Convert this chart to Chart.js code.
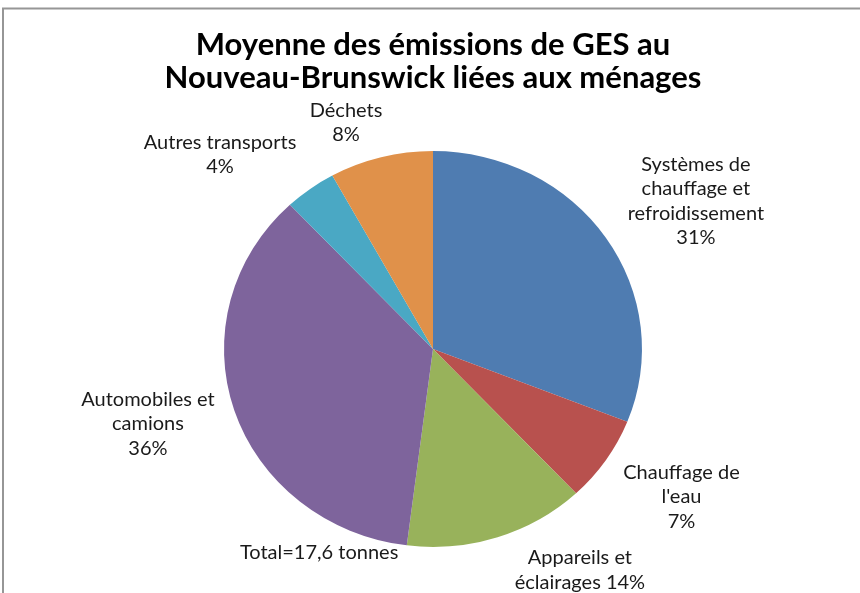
<!DOCTYPE html>
<html><head><meta charset="utf-8">
<script src="https://cdn.jsdelivr.net/npm/chart.js@4/dist/chart.umd.min.js"></script>
<style>html,body{margin:0;padding:0;background:#fff;} canvas{display:block;}</style>
</head><body>
<canvas id="c" width="860" height="593"></canvas>
<script>
const categories = [
  ["Systèmes de","chauffage et","refroidissement"],
  ["Chauffage de","l'eau"],
  ["Appareils et","éclairages"],
  ["Automobiles et","camions"],
  ["Autres transports"],
  ["Déchets"]
];
const values = [31, 7, 14, 36, 4, 8];
const colors = ["#4F7CB1","#B8514E","#98B25B","#7E649C","#4AA8C4","#E0914A"];
const titleLines = ["Moyenne des émissions de GES au","Nouveau-Brunswick liées aux ménages"];
const totalNote = "Total=17,6 tonnes";

const framePlugin = {
  id: 'frame',
  beforeDraw(chart) {
    const ctx = chart.ctx;
    ctx.save();
    ctx.fillStyle = '#fff';
    ctx.fillRect(0, 0, chart.width, chart.height);
    ctx.strokeStyle = '#969696';
    ctx.lineWidth = 2;
    ctx.beginPath();
    ctx.moveTo(3, chart.height);
    ctx.lineTo(3, 8.5);
    ctx.lineTo(chart.width, 8.5);
    ctx.stroke();
    ctx.restore();
  }
};

// draws the pie slightly flattened vertically, as in the original picture
const ellipsePlugin = {
  id: 'ellipse',
  beforeDatasetsDraw(chart, args, opts) {
    const a = chart.getDatasetMeta(0).data[0];
    const ctx = chart.ctx;
    ctx.save();
    ctx.translate(a.x, a.y);
    ctx.scale(1, opts.sy);
    ctx.translate(-a.x, -a.y);
  },
  afterDatasetsDraw(chart) {
    chart.ctx.restore();
  }
};

const labelPlugin = {
  id: 'outLabels',
  afterDatasetsDraw(chart, args, opts) {
    const meta = chart.getDatasetMeta(0);
    const ctx = chart.ctx;
    const a0 = meta.data[0];
    const cx = a0.x, cy = a0.y, R = a0.outerRadius;
    ctx.save();
    ctx.font = opts.font;
    ctx.fillStyle = opts.color;
    ctx.textAlign = 'center';
    ctx.textBaseline = 'middle';
    values.forEach((v, i) => {
      const lines = categories[i].slice();
      const pct = v + '%';
      if (opts.inline[i]) lines[lines.length - 1] += ' ' + pct; else lines.push(pct);
      const [ox, oy] = opts.offsets[i];
      const x = cx + ox * R, y = cy + oy * R;
      const n = lines.length;
      lines.forEach((t, j) => ctx.fillText(t, x, y + (j - (n - 1) / 2) * opts.lineHeight));
    });
    ctx.fillText(totalNote, cx + opts.totalOffset[0] * R, cy + opts.totalOffset[1] * R);
    ctx.restore();
  }
};

new Chart(document.getElementById('c'), {
  type: 'pie',
  data: {
    labels: categories,
    datasets: [{ data: values, backgroundColor: colors, borderWidth: 0 }]
  },
  options: {
    responsive: false,
    animation: false,
    layout: { padding: { top: 0, left: 6, right: 0, bottom: 35 } },
    plugins: {
      legend: { display: false },
      tooltip: { enabled: false },
      title: {
        display: true,
        text: titleLines,
        color: '#000',
        font: { family: 'Lato', weight: 'bold', size: 31, lineHeight: 1.065 },
        padding: { top: 28, bottom: 46 }
      },
      ellipse: { sy: 0.947 },
      outLabels: {
        font: '20px Lato',
        color: '#1a1a1a',
        lineHeight: 24.5,
        inline: [false, false, true, false, false, false],
        offsets: [[1.258, -0.708], [1.189, 0.708], [0.703, 1.057], [-1.364, 0.359], [-1.019, -0.931], [-0.416, -1.084]],
        totalOffset: [-0.545, 0.976]
      }
    }
  },
  plugins: [framePlugin, ellipsePlugin, labelPlugin]
});
</script>
</body></html>
